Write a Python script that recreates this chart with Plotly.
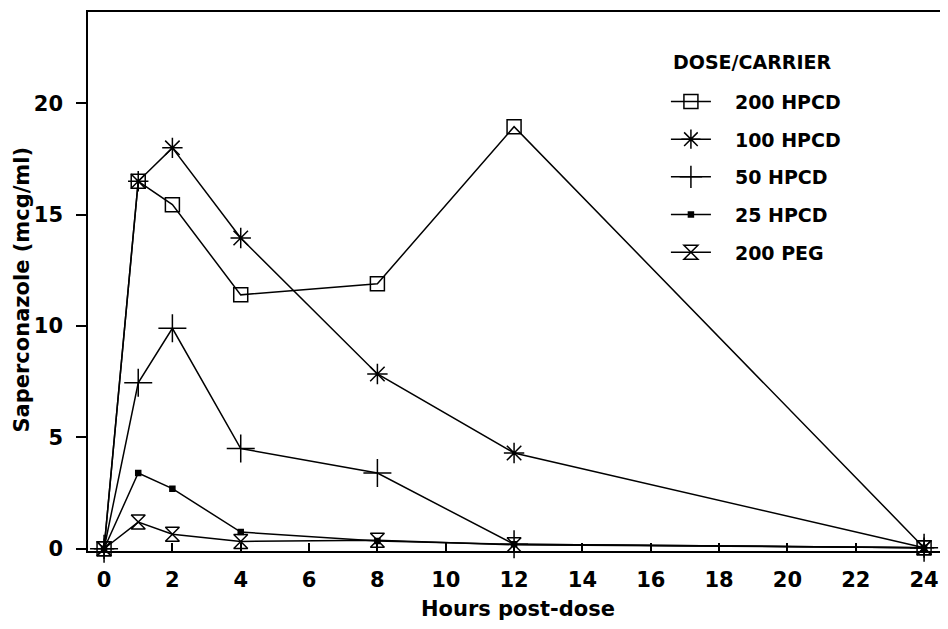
import plotly.graph_objects as go

hours = [0, 1, 2, 4, 8, 12, 24]
hpcd200 = [0, 16.5, 15.45, 11.4, 11.9, 18.95, 0.05]
hpcd100 = [0, 16.5, 18.0, 13.95, 7.85, 4.3, 0.05]
hpcd50 = [0, 7.45, 9.9, 4.5, 3.4, 0.2, 0.05]
hpcd25 = [0, 3.4, 2.7, 0.75, 0.35, 0.2, 0.05]
peg200 = [0, 1.2, 0.65, 0.33, 0.38, 0.18, 0.05]

series_names = ["200 HPCD", "100 HPCD", "50 HPCD", "25 HPCD", "200 PEG"]
series_vals = [hpcd200, hpcd100, hpcd50, hpcd25, peg200]
symbols = ["square-open", "asterisk-open", "cross-thin-open", "square", "hourglass-open"]
sizes = [14, 17, 20, 5, 14]

x_ticks = list(range(0, 25, 2))
y_ticks = [0, 5, 10, 15, 20]

legend_title = "DOSE/CARRIER"
x_title = "Hours post-dose"
y_title = "Saperconazole (mcg/ml)"

FONT = "DejaVu Sans, Verdana, sans-serif"
PAD = "\u2002\u2002"  # visual gap between legend symbol and label

fig = go.Figure()
for name, vals, sym, sz in zip(series_names, series_vals, symbols, sizes):
    fig.add_trace(go.Scatter(
        x=hours, y=vals, name=PAD + name, mode="lines+markers",
        line=dict(color="black", width=1.5),
        marker=dict(symbol=sym, size=sz, color="black",
                    line=dict(color="black", width=1.5)),
        legendgroup=name, cliponaxis=False,
    ))

# page body has an 8px margin; compensate so the plot frame sits where the reference has it
fig.update_layout(
    width=940, height=621,
    margin=dict(l=80, r=0, t=4, b=78),
    paper_bgcolor="white", plot_bgcolor="white",
    font=dict(family=FONT, color="black"),
    showlegend=True,
    legend=dict(
        x=0.672, y=0.869, xanchor="left", yanchor="top",
        bgcolor="rgba(0,0,0,0)",
        font=dict(family=FONT, size=19, color="black", weight="bold"),
        tracegroupgap=10,
        itemwidth=40,
    ),
    annotations=[
        dict(text=legend_title, xref="paper", yref="paper", x=0.678, y=0.907,
             xanchor="left", yanchor="middle", showarrow=False,
             font=dict(family=FONT, size=19, weight="bold", color="black")),
        dict(text=y_title, xref="paper", yref="paper", x=-0.0767, y=0.485,
             xanchor="center", yanchor="middle", textangle=-90, showarrow=False,
             font=dict(family=FONT, size=21, weight="bold", color="black")),
    ],
    xaxis=dict(
        range=[-0.47, 24.7], tickvals=x_ticks, ticks="inside", ticklen=8,
        tickwidth=1.5, tickcolor="black",
        showline=True, linecolor="black", linewidth=1.5, mirror=True,
        showgrid=False, zeroline=False, ticklabelstandoff=9,
        tickfont=dict(family=FONT, size=21, weight="bold"),
        title=dict(text=x_title, font=dict(family=FONT, size=21, weight="bold"), standoff=10),
    ),
    yaxis=dict(
        range=[-0.1, 24.1], tickvals=y_ticks, ticks="outside", ticklen=10,
        tickwidth=1.5, tickcolor="black",
        showline=True, linecolor="black", linewidth=1.5,
        showgrid=False, zeroline=False, ticklabelstandoff=9,
        tickfont=dict(family=FONT, size=21, weight="bold"),
    ),
)

fig.write_html("out.html")
